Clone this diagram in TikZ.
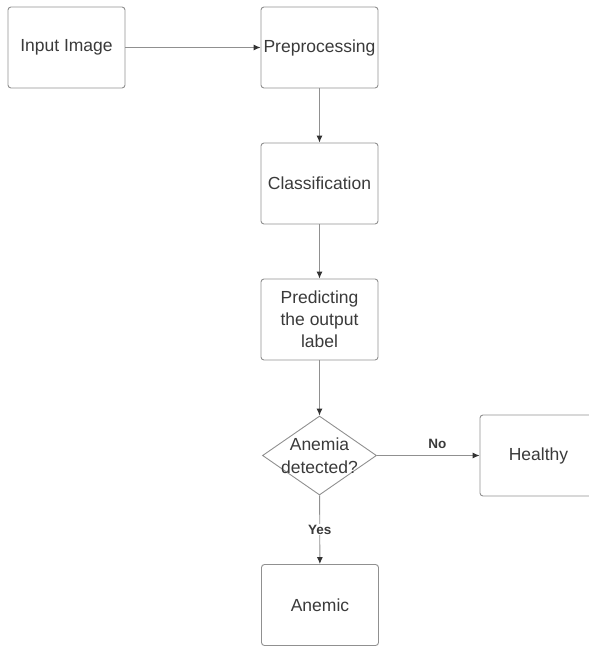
\documentclass[tikz,border=0pt]{standalone}
\usepackage{fontspec}
\setmainfont{Liberation Sans}
\usetikzlibrary{shapes.geometric,arrows.meta}
\definecolor{txt}{HTML}{3A3A3A}
\definecolor{edge}{HTML}{909090}
\definecolor{tip}{HTML}{333333}
\begin{document}
\begin{tikzpicture}[x=1pt,y=-1pt,
  box/.style={draw=edge,line width=0.9pt,rounded corners=3pt,minimum width=117pt,minimum height=81pt,
    inner sep=0pt,align=center,text=txt,font=\fontsize{17.5}{22}\selectfont},
  dia/.style={draw=edge,line width=0.9pt,diamond,minimum width=114pt,minimum height=79pt,inner sep=0pt},
  lbl/.style={text=txt,align=center,font=\fontsize{17.5}{23}\selectfont},
  conn/.style={draw=edge,line width=0.9pt,-{Latex[length=7pt,width=6pt,color=tip]}},
  tag/.style={text=txt,font=\bfseries\fontsize{13.5}{16}\selectfont,inner sep=1pt}]
\useasboundingbox (0,0) rectangle (589,646);
\clip (0,0) rectangle (589,646);
\node[box] (in) at (66.5,47.5) {Input Image};
\node[box] (pre) at (319.5,47.5) {Preprocessing};
\node[box] (cls) at (319.5,183.5) {Classification};
\node[box] (pred) at (319.5,319.5) {Predicting\\the output\\label};
\node[dia] (dec) at (319.5,455.5) {};
\node[lbl] (dect) at (319.5,455.5) {Anemia\\detected?};
\node[box] (hea) at (538.5,455.5) {Healthy};
\node[box] (ane) at (320,605) {Anemic};
\draw[conn] (in) -- (pre);
\draw[conn] (pre) -- (cls);
\draw[conn] (cls) -- (pred);
\draw[conn] (pred) -- (dec);
\draw[conn] (dec) -- node[tag,above=5pt,pos=0.59] (no) {No} (hea);
\draw[conn] (dec) -- node[tag,fill=white,pos=0.5] (yes) {Yes} (ane);
\end{tikzpicture}
\end{document}
